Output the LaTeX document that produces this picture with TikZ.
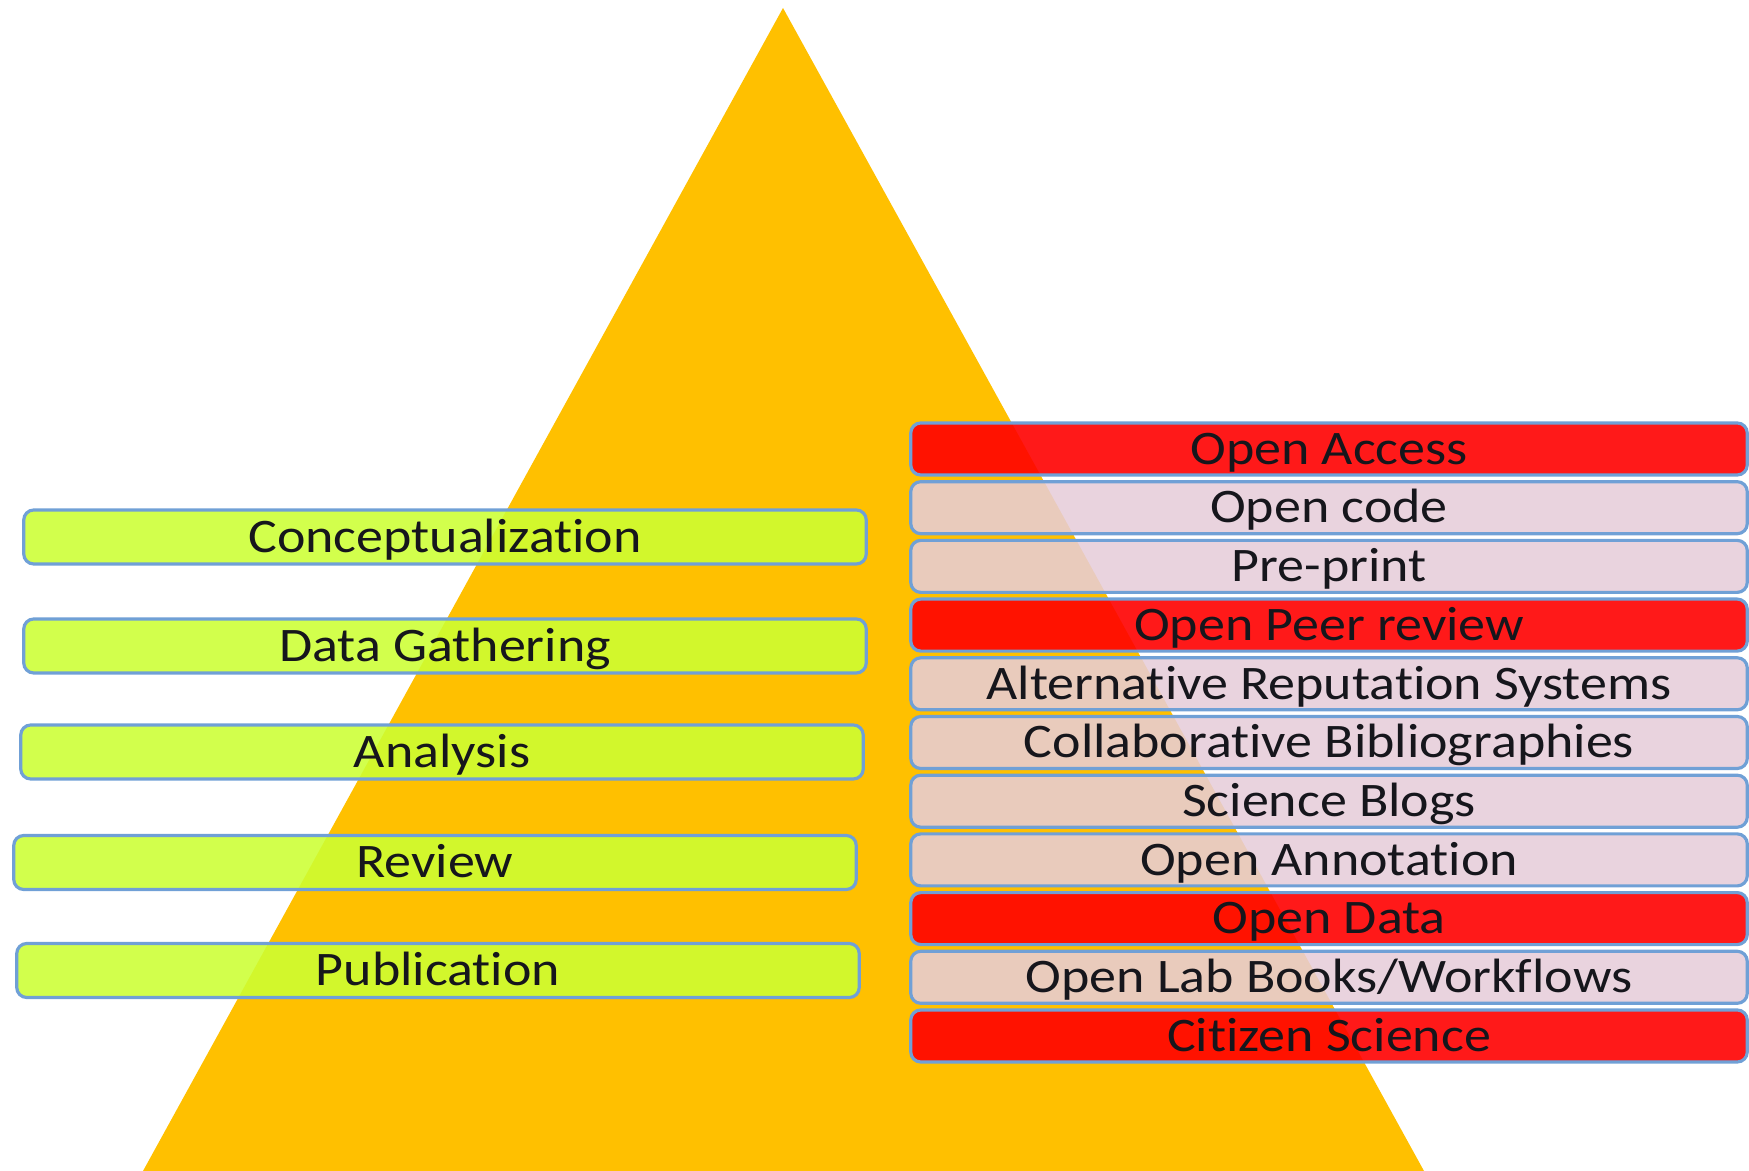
\documentclass[tikz,border=0pt]{standalone}
\usepackage{fontspec}
\setmainfont{Carlito}[FakeStretch=1.12, RawFeature={-liga;-clig;-calt;-dlig;-rlig}]
\newcommand{\tisep}{t\kern0pt i}
\definecolor{pyr}{RGB}{255,192,0}
\definecolor{gbox}{RGB}{204,255,51}
\definecolor{pbox}{RGB}{230,205,217}
\definecolor{rbox}{RGB}{255,0,0}
\definecolor{bord}{RGB}{112,160,214}
\definecolor{txt}{RGB}{22,22,28}
\tikzset{
  boxbase/.style={draw=bord, line width=0.9pt, rounded corners=0.1cm,
    inner sep=0pt, outer sep=0pt, text height=0.305cm, text depth=0pt,
    text=txt, font=\fontsize{13.7pt}{16pt}\selectfont},
  greenbox/.style={boxbase, fill=gbox, fill opacity=0.88, text opacity=1,
    minimum width=8.42cm, minimum height=0.54cm},
  pinkbox/.style={boxbase, fill=pbox, fill opacity=0.87, text opacity=1,
    minimum width=8.36cm, minimum height=0.52cm},
  redbox/.style={boxbase, fill=rbox, fill opacity=0.9, text opacity=1,
    minimum width=8.36cm, minimum height=0.52cm},
}
\begin{document}
\begin{tikzpicture}[x=0.01cm, y=-0.01cm]
\useasboundingbox (0,0) rectangle (1749,1171);
% pyramid
\fill[pyr] (783,8) -- (143,1171) -- (1424,1171) -- cycle;
% left column
\node[greenbox] (concept) at (445,537) {Conceptualiza\tisep on};
\node[greenbox] (gather)  at (445,646) {Data Gathering};
\node[greenbox] (analysis) at (442,752) {Analysis};
\node[greenbox] (review)  at (435,862.5) {Review};
\node[greenbox] (publ)    at (438,970.5) {Publica\tisep on};
% right column
\node[redbox]  (oa)    at (1329,449.0) {Open Access};
\node[pinkbox] (ocode) at (1329,507.7) {Open code};
\node[pinkbox] (pre)   at (1329,566.4) {Pre-print};
\node[redbox]  (opr)   at (1329,625.1) {Open Peer review};
\node[pinkbox] (ars)   at (1329,683.8) {Alterna\tisep ve Reputa\tisep on Systems};
\node[pinkbox] (cbib)  at (1329,742.5) {Collabora\tisep ve Bibliographies};
\node[pinkbox] (blogs) at (1329,801.2) {Science Blogs};
\node[pinkbox] (oann)  at (1329,859.9) {Open Annota\tisep on};
\node[redbox]  (odata) at (1329,918.6) {Open Data};
\node[pinkbox] (olab)  at (1329,977.3) {Open Lab Books/Workflows};
\node[redbox]  (cit)   at (1329,1036.0) {Ci\tisep zen Science};
\end{tikzpicture}
\end{document}
